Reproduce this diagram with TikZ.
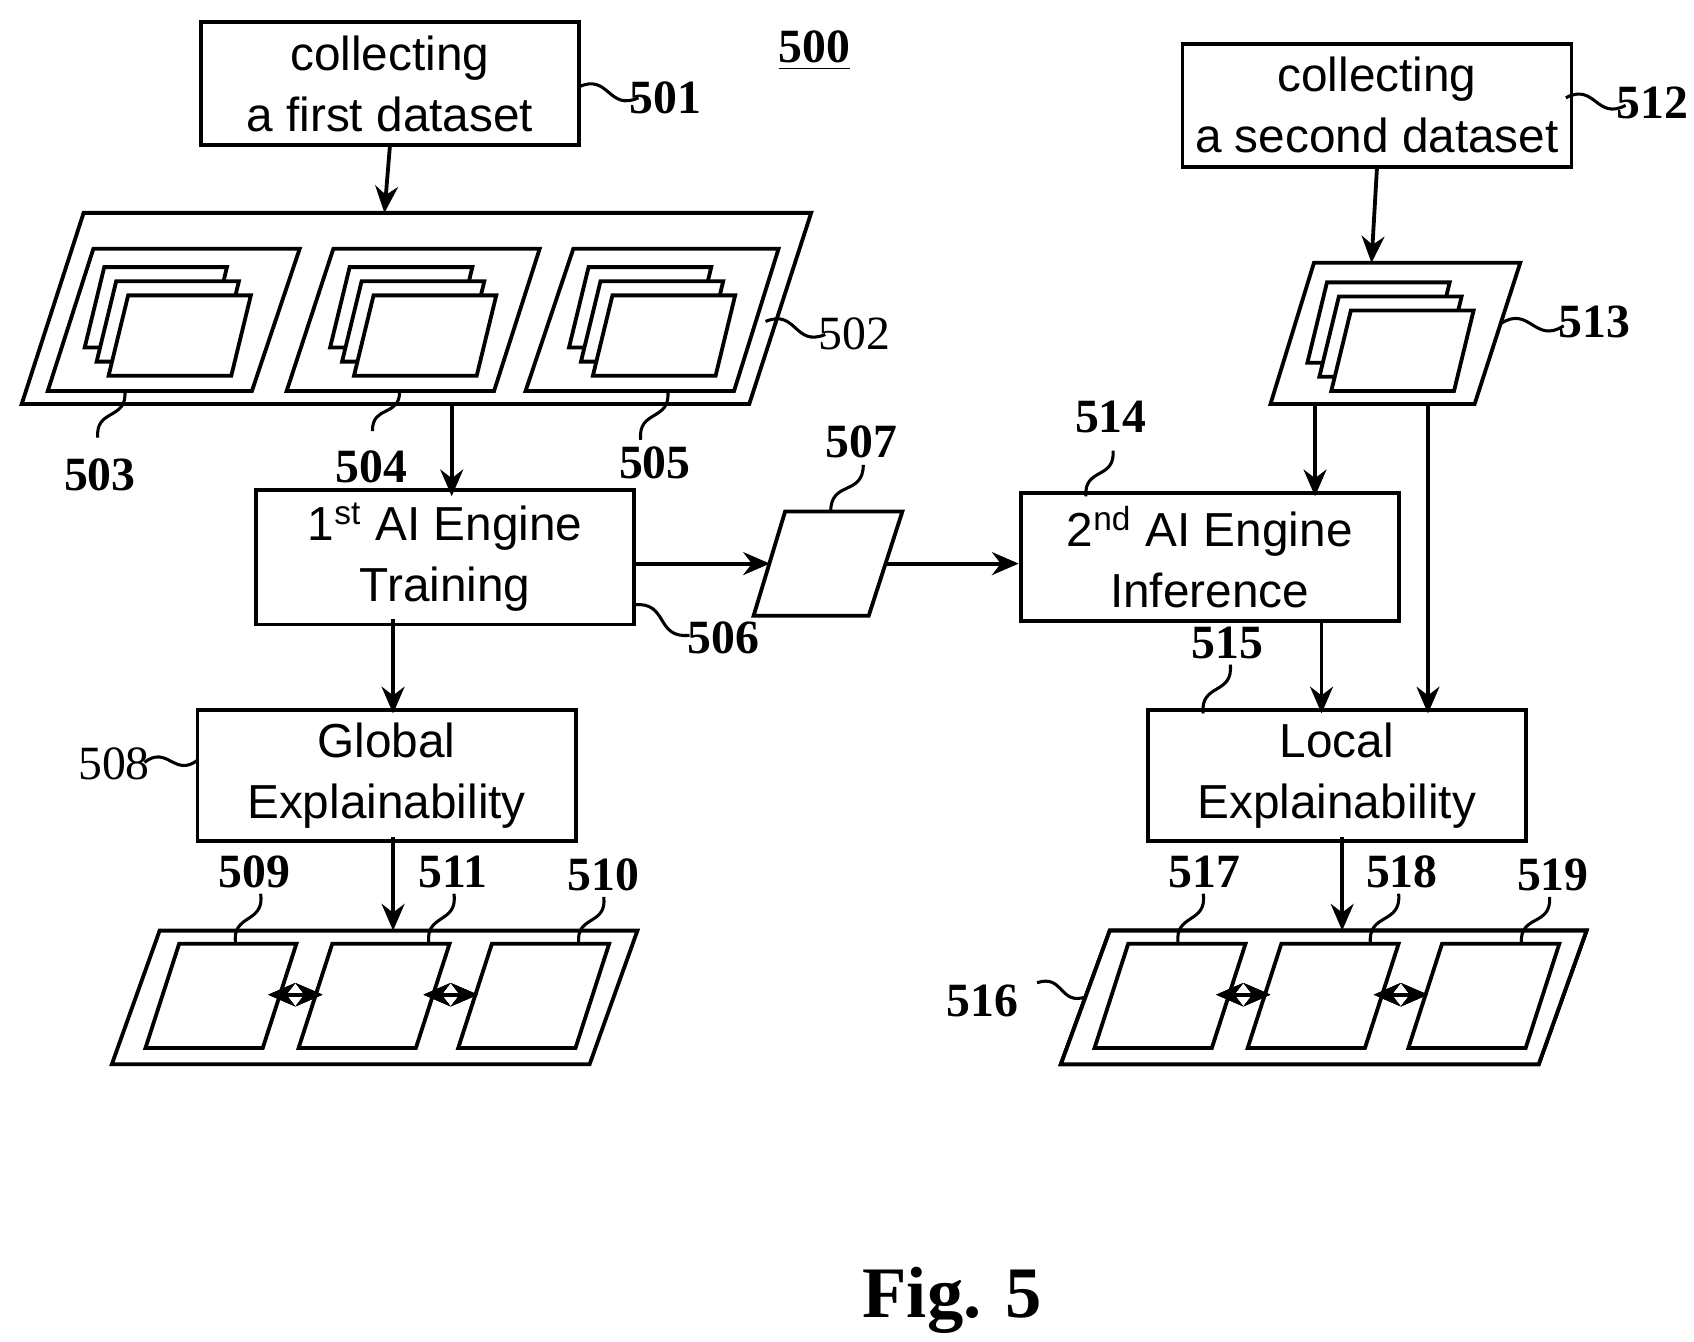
\documentclass[tikz,border=0pt]{standalone}
\usepackage{fontspec}
\setmainfont{Liberation Serif}
\setsansfont{Liberation Sans}
\usetikzlibrary{calc,arrows.meta}
\tikzset{
	box/.style={draw, line width=1pt, minimum width=3.48cm, minimum height=1.13cm, align=center, font=\sffamily\fontsize{12.5}{16}\selectfont},
	num/.style={font=\bfseries\fontsize{12.5}{14}\selectfont},
	numn/.style={font=\fontsize{12.5}{14}\selectfont},
	flow/.style={line width=1pt, -{Stealth[length=7pt,width=6pt]}},
	shp/.style={line width=1pt, fill=white},
}
% lead line from label to part
\newcommand\squig[2]{\draw[line width=0.8pt] (#1) .. controls ($(#1)!0.55!35:(#2)$) and ($(#2)!0.55!35:(#1)$) .. (#2);}
% parallelogram: bottom-left, width, height, slant
\newcommand\para[4]{\draw[shp] (#1) -- ++(#2,0) -- ++(#4,#3) -- ++(-#2,0) -- cycle;}
% stack of three pages, front page bottom-left
\newcommand\pages[1]{
	\para{$(#1)+(-22,-26)$}{113}{-74}{18}
	\para{$(#1)+(-11,-13)$}{113}{-74}{18}
	\para{#1}{113}{-74}{18}}
\begin{document}
\begin{tikzpicture}[x=0.01cm, y=-0.01cm]
	\useasboundingbox (0,0) rectangle (1560,1235);
	%\draw [step=100,lightgray, very thin] (0,0) grid (1560,1235);

	% boxes
	\node[box] (collect1) at (359,77) {collecting\\a first dataset};
	\node[box] (collect2) at (1268,97) {collecting\\a second dataset};
	\node[box] (train) at (410,513) {1\textsuperscript{st} AI Engine\\Training};
	\node[box] (infer) at (1114,513) {2\textsuperscript{nd} AI Engine\\Inference};
	\node[box] (global) at (356,714) {Global\\Explainability};
	\node[box] (local) at (1231,714) {Local\\Explainability};
	\node[num] (n500) at (750,47) {\underline{500}};

	% first dataset 502
	\draw[shp] (20,372) -- (690,372) -- (747,196) -- (77,196) -- cycle;
	\draw[shp] (44,360) -- (232,360) -- (276,229) -- (86,229) -- cycle;
	\draw[shp] (264,360) -- (455,360) -- (497,229) -- (307,229) -- cycle;
	\draw[shp] (484,360) -- (676,360) -- (717,229) -- (528,229) -- cycle;
	\pages{100,346}
	\pages{326,346}
	\pages{546,346}
	% second dataset 513
	\draw[shp] (1170,372) -- (1358,372) -- (1400,242) -- (1210,242) -- cycle;
	\pages{1226,360}
	% model 507
	\draw[shp] (694,567) -- (800,567) -- (831,471) -- (723,471) -- cycle;
	\coordinate (m507in) at (709,519);
	\coordinate (m507out) at (817,519);

	% outputs
	\draw[shp] (103,980) -- (543,980) -- (587,857) -- (147,857) -- cycle;
	\foreach \x in {134,275,422} \para{\x,965}{108}{-96}{31}
	\draw[shp] (977,980) -- (1417,980) -- (1461,857) -- (1022,857) -- cycle;
	\foreach \x in {1008,1149,1297} \para{\x,965}{108}{-96}{31}
	\foreach \a/\b in {247/297, 390/440, 1120/1170, 1265/1315}
		\draw[line width=1pt, {Stealth[length=7pt,width=6pt]}-{Stealth[length=7pt,width=6pt]}] (\a,916) -- (\b,916);

	% flow
	\draw[flow] (collect1.south) -- (354,196);
	\draw[flow] (collect2.south) -- (1263,242);
	\draw[flow] (416,372) -- (416,457);
	\draw[flow] (train.east |- m507in) -- (m507in);
	\draw[flow] (m507out) -- (infer.west |- m507out);
	\draw[flow] (1211,372) -- (1211,457);
	\draw[flow] (1315,372) -- (1315,657);
	\draw[flow] (1217,570) -- (1217,657);
	\draw[flow] (362,570) -- (362,657);
	\draw[flow] (362,771) -- (362,857);
	\draw[flow] (1236,771) -- (1236,857);

	% reference numerals
	\node[num] (n501) at (613,90) {501};
	\node[num] (n512) at (1522,95) {512};
	\node[numn] (n502) at (787,307) {502};
	\node[num] (n513) at (1468,296) {513};
	\node[num] (n503) at (92,437) {503};
	\node[num] (n504) at (342,430) {504};
	\node[num] (n505) at (603,426) {505};
	\node[num] (n506) at (666,587) {506};
	\node[num] (n507) at (793,407) {507};
	\node[num] (n514) at (1023,384) {514};
	\node[num] (n515) at (1130,592) {515};
	\node[numn] (n508) at (105,703) {508};
	\node[num] (n509) at (234,803) {509};
	\node[num] (n511) at (417,803) {511};
	\node[num] (n510) at (556,806) {510};
	\node[num] (n517) at (1109,803) {517};
	\node[num] (n518) at (1291,803) {518};
	\node[num] (n519) at (1430,806) {519};
	\node[num] (n516) at (905,922) {516};
	\node[font=\bfseries\fontsize{19}{22}\selectfont] (fig) at (877,1197) {Fig. 5};

	\squig{533,80}{588,90}
	\squig{1442,90}{1497,97}
	\squig{705,296}{760,308}
	\squig{1382,298}{1440,300}
	\squig{115,360}{90,403}
	\squig{368,360}{343,397}
	\squig{615,360}{590,405}
	\squig{584,557}{635,585}
	\squig{765,471}{795,428}
	\squig{1000,457}{1025,415}
	\squig{1108,657}{1133,612}
	\squig{133,702}{182,700}
	\squig{217,869}{240,823}
	\squig{395,869}{418,823}
	\squig{533,869}{556,826}
	\squig{1085,869}{1108,823}
	\squig{1262,869}{1288,823}
	\squig{1401,869}{1427,826}
	\squig{955,905}{1000,918}
\end{tikzpicture}
\end{document}
